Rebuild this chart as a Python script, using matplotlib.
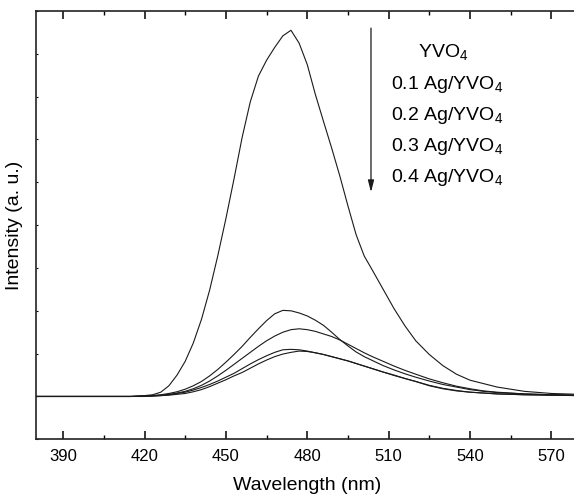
import matplotlib
matplotlib.use("Agg")
import matplotlib.pyplot as plt
from matplotlib.ticker import MultipleLocator, NullFormatter

plt.rcParams["font.family"] = ["Liberation Sans", "DejaVu Sans"]
plt.rcParams["mathtext.default"] = "regular"

# emission spectra (wavelength in nm, intensity in a.u.)
wavelength = [380, 400, 415, 420, 423, 426, 429, 432, 435, 438, 441, 444, 447,
              450, 453, 456, 459, 462, 465, 468, 471, 474, 477, 480, 483, 486,
              489, 492, 495, 498, 501, 504, 508, 512, 516, 520, 525, 530, 535,
              540, 545, 550, 560, 570, 580]

yvo4 = [0.0, 0.0, 0.0, 0.02, 0.04, 0.1, 0.25, 0.5, 0.82, 1.25, 1.8, 2.48, 3.28,
        4.15, 5.08, 6.05, 6.88, 7.48, 7.85, 8.15, 8.42, 8.55, 8.25, 7.75, 7.05, 6.42,
        5.8, 5.15, 4.45, 3.78, 3.28, 2.95, 2.5, 2.05, 1.65, 1.3, 0.98, 0.72, 0.52,
        0.38, 0.3, 0.22, 0.12, 0.07, 0.05]

ag01 = [0.0, 0.0, 0.0, 0.01, 0.02, 0.04, 0.07, 0.11, 0.17, 0.25, 0.35, 0.48, 0.63,
        0.8, 0.98, 1.17, 1.38, 1.58, 1.77, 1.93, 2.01, 2.0, 1.95, 1.88, 1.78, 1.66,
        1.5, 1.33, 1.18, 1.04, 0.93, 0.84, 0.72, 0.62, 0.53, 0.45, 0.36, 0.28, 0.22,
        0.16, 0.12, 0.09, 0.06, 0.04, 0.03]

ag02 = [0.0, 0.0, 0.0, 0.01, 0.02, 0.03, 0.05, 0.08, 0.12, 0.18, 0.26, 0.36, 0.48,
        0.61, 0.75, 0.89, 1.03, 1.17, 1.3, 1.41, 1.5, 1.56, 1.58, 1.56, 1.52, 1.46,
        1.4, 1.32, 1.22, 1.12, 1.02, 0.93, 0.82, 0.71, 0.61, 0.52, 0.41, 0.32, 0.24,
        0.18, 0.13, 0.1, 0.06, 0.04, 0.03]

ag03 = [0.0, 0.0, 0.0, 0.01, 0.01, 0.02, 0.04, 0.07, 0.1, 0.15, 0.21, 0.28, 0.36,
        0.45, 0.54, 0.65, 0.76, 0.86, 0.95, 1.03, 1.09, 1.1, 1.09, 1.06, 1.02, 0.98,
        0.93, 0.88, 0.83, 0.77, 0.71, 0.65, 0.57, 0.5, 0.42, 0.35, 0.25, 0.18, 0.13,
        0.1, 0.08, 0.06, 0.04, 0.03, 0.02]

ag04 = [0.0, 0.0, 0.0, 0.0, 0.01, 0.02, 0.03, 0.05, 0.07, 0.11, 0.16, 0.23, 0.31,
        0.39, 0.48, 0.56, 0.66, 0.76, 0.85, 0.93, 0.99, 1.03, 1.06, 1.05, 1.02, 0.98,
        0.93, 0.88, 0.83, 0.77, 0.71, 0.65, 0.57, 0.49, 0.42, 0.35, 0.26, 0.19, 0.14,
        0.1, 0.08, 0.06, 0.04, 0.03, 0.02]

labels = ["YVO$_4$", "0.1 Ag/YVO$_4$", "0.2 Ag/YVO$_4$",
          "0.3 Ag/YVO$_4$", "0.4 Ag/YVO$_4$"]

fig = plt.figure(figsize=(5.74, 4.98), dpi=100)
ax = fig.add_axes([36 / 574, 1 - 439.3 / 498, 542.5 / 574, 428.3 / 498])

for series in [yvo4, ag01, ag02, ag03, ag04]:
    ax.plot(wavelength, series, color="#1a1a1a", lw=0.8)

ax.set_xlim(380, 580)
ax.set_ylim(-1, 9)

ax.xaxis.set_minor_locator(MultipleLocator(15))
ax.set_xticks(range(390, 580, 30))
ax.yaxis.set_major_locator(MultipleLocator(1))
ax.yaxis.set_major_formatter(NullFormatter())

ax.tick_params(axis="x", which="major", direction="in", length=6, width=1.1,
               labelsize=12, pad=7, top=True)
ax.tick_params(axis="x", which="minor", direction="in", length=3, width=1.0, top=True)
ax.tick_params(axis="y", which="major", direction="in", length=1.5, width=0.8)
for side in ["left", "bottom", "top", "right"]:
    ax.spines[side].set_linewidth(1.2)
    ax.spines[side].set_color("#222222")

ax.set_xlabel("Wavelength (nm)", fontsize=14, labelpad=9)
ax.set_ylabel("Intensity (a. u.)", fontsize=14, labelpad=6)

# downward arrow next to the sample list
ax.annotate("", xy=(503.5, 4.77), xytext=(503.5, 8.6),
            arrowprops=dict(arrowstyle="-|>,head_length=0.7,head_width=0.18",
                            color="#1a1a1a", lw=0.9, shrinkA=0, shrinkB=0))

ax.text(530.1, 7.92, labels[0], fontsize=14, ha="center", va="baseline")
for lab, ypos in zip(labels[1:], [7.17, 6.45, 5.72, 5.0]):
    ax.text(510.8, ypos, lab, fontsize=14, ha="left", va="baseline")

plt.savefig("out.png", dpi=100)
